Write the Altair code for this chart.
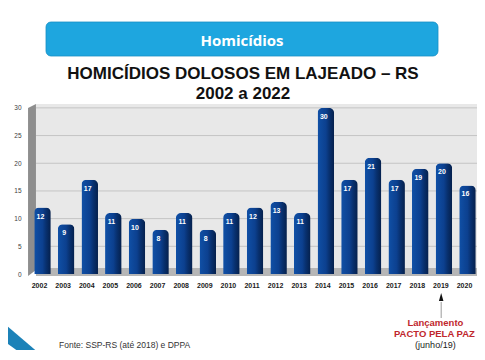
import altair as alt
import pandas as pd

# ---------------- data ----------------
years = ["2002", "2003", "2004", "2005", "2006", "2007", "2008", "2009", "2010",
         "2011", "2012", "2013", "2014", "2015", "2016", "2017", "2018", "2019", "2020"]
values = [12, 9, 17, 11, 10, 8, 11, 8, 11, 12, 13, 11, 30, 17, 21, 17, 19, 20, 16]
y_ticks = [0, 5, 10, 15, 20, 25, 30]
grid_vals = [5, 10, 15, 20, 25, 30]

header_text = "Homicídios"
title_line1 = "HOMICÍDIOS DOLOSOS EM LAJEADO – RS"
title_line2 = "2002 a 2022"
note_year = "2019"
note_lines = ["Lançamento", "PACTO PELA PAZ", "(junho/19)"]
source_text = "Fonte: SSP-RS (até 2018) e DPPA"

# ---------------- layout ----------------
W, H = 456, 170
FONT = "Liberation Sans"

df = pd.DataFrame({"year": years, "value": values})
one = pd.DataFrame({"k": [0]})

xscale = alt.Scale(domain=years, paddingInner=0.3, paddingOuter=0.307)
yscale = alt.Scale(domain=[0, 30.7], nice=False, zero=True)

x_axis = alt.Axis(labelFont=FONT, labelFontSize=7, labelFontWeight="bold",
                  labelColor="#1a1a1a", labelAngle=0, labelPadding=7,
                  labelOffset=-3, ticks=False, domain=False, grid=False, title=None)
y_axis = alt.Axis(values=y_ticks, labelFont=FONT, labelFontSize=6.5,
                  labelColor="#404040", labelPadding=6, ticks=False,
                  domain=False, grid=False, title=None)

X = alt.X("year:N", scale=xscale, axis=x_axis, title=None)
Y = alt.Y("value:Q", scale=yscale, axis=y_axis, title=None)

# plot background, grid, floor, wall
bg = alt.Chart(one).mark_rect(color="#e8e8e8").encode(
    x=alt.value(9), x2=alt.value(W + 4), y=alt.value(0), y2=alt.value(164))

grid = alt.Chart(pd.DataFrame({"value": grid_vals})).mark_rule(
    color="#c4c4c4", strokeWidth=1).encode(
    y=Y, x=alt.value(9), x2=alt.value(W + 4))

floor = alt.Chart(one).mark_rect(color="#b6b6b6").encode(
    x=alt.value(9), x2=alt.value(W + 4), y=alt.value(164), y2=alt.value(172))

wall = alt.Chart(one).mark_point(
    shape="M -0.044 -0.911 L 0.044 -0.956 L 0.044 0.889 L -0.044 0.956 Z",
    filled=True, size=32400, color="#8e8e8e", opacity=1, strokeWidth=0).encode(
    x=alt.value(5), y=alt.value(86))

bar_grad = alt.Gradient(
    gradient="linear",
    stops=[alt.GradientStop(color="#1050a6", offset=0),
           alt.GradientStop(color="#0c408f", offset=0.5),
           alt.GradientStop(color="#08306e", offset=0.72),
           alt.GradientStop(color="#05204c", offset=1)],
    x1=0, x2=1, y1=0, y2=0)

bars = alt.Chart(df).mark_bar(color=bar_grad, cornerRadiusTopLeft=5,
                              cornerRadiusTopRight=5).encode(x=X, y=Y)

labels = alt.Chart(df).mark_text(color="white", font=FONT, fontWeight="bold",
                                 fontSize=7, dy=9, dx=-2, baseline="middle").encode(
    x=X, y=Y, text="value:Q")

# header box and titles
hdr_box = alt.Chart(one).mark_rect(color="#1ea6df", cornerRadius=5, stroke="#1890c4",
                                   strokeWidth=0.8).encode(
    x=alt.value(19), x2=alt.value(411), y=alt.value(-82), y2=alt.value(-48))
hdr_txt = alt.Chart(one).mark_text(text=header_text, font="Open Sans", fontWeight="bold",
                                   fontSize=15, color="white", align="center",
                                   baseline="alphabetic").encode(
    x=alt.value(215), y=alt.value(-58.5))
t1 = alt.Chart(one).mark_text(text=title_line1, font=FONT, fontWeight="bold", fontSize=17,
                              color="#111111", align="center", baseline="alphabetic").encode(
    x=alt.value(216), y=alt.value(-25.5))
t2 = alt.Chart(one).mark_text(text=title_line2, font=FONT, fontWeight="bold", fontSize=17,
                              color="#111111", align="center", baseline="alphabetic").encode(
    x=alt.value(216), y=alt.value(-5.5))

# annotation under 2019
nd = pd.DataFrame({"year": [note_year]})
arrow_line = alt.Chart(nd).mark_rule(color="#9a9a9a", strokeWidth=1, xOffset=-2.7).encode(
    x=X, y=alt.value(198), y2=alt.value(214))
arrow_head = alt.Chart(nd).mark_point(shape="M 0 -1 L 0.45 0.6 L -0.45 0.6 Z", filled=True,
                                      size=100, color="#111111", opacity=1, strokeWidth=0,
                                      xOffset=-2.7).encode(x=X, y=alt.value(194))
n1 = alt.Chart(nd).mark_text(text=note_lines[0], font=FONT, fontWeight="bold", fontSize=9.5,
                             color="#c0272d", align="center", baseline="alphabetic",
                             dx=-8.5).encode(x=X, y=alt.value(222))
n2 = alt.Chart(nd).mark_text(text=note_lines[1], font=FONT, fontWeight="bold", fontSize=9.5,
                             color="#c0272d", align="center", baseline="alphabetic",
                             dx=-9.5).encode(x=X, y=alt.value(233))
n3 = alt.Chart(nd).mark_text(text=note_lines[2], font=FONT, fontSize=9,
                             color="#222222", align="center", baseline="alphabetic",
                             dx=-8.5).encode(x=X, y=alt.value(243.5))

src = alt.Chart(one).mark_text(text=source_text, font=FONT, fontSize=8.5, color="#333333",
                               align="left", baseline="alphabetic").encode(
    x=alt.value(32), y=alt.value(244))

# slide decoration bottom-left
deco_dark = alt.Chart(one).mark_point(shape="M -0.6 0.02 L 0.08 0.5 L -0.6 0.5 Z",
                                      filled=True, size=10000, color="#3a3a3a", opacity=1,
                                      strokeWidth=0).encode(x=alt.value(-7), y=alt.value(236))
deco_blue = alt.Chart(one).mark_point(
    shape="M -0.6 -0.57 L 0.658 0.5 L 0.336 0.5 L -0.6 -0.186 Z",
    filled=True, size=10000, color="#1c82b8", opacity=1,
    strokeWidth=0).encode(x=alt.value(-7), y=alt.value(236))

chart = alt.layer(
    bg, grid, floor, wall, bars, labels, hdr_box, hdr_txt, t1, t2,
    arrow_line, arrow_head, n1, n2, n3, src, deco_dark, deco_blue
).properties(
    width=W, height=H,
    autosize=alt.AutoSizeParams(type="none"),
    padding={"left": 19, "top": 96, "right": -6, "bottom": 76},
    background="white",
).configure_view(stroke=None)

chart.save("out.html", embed_options={"renderer": "svg", "actions": False})
